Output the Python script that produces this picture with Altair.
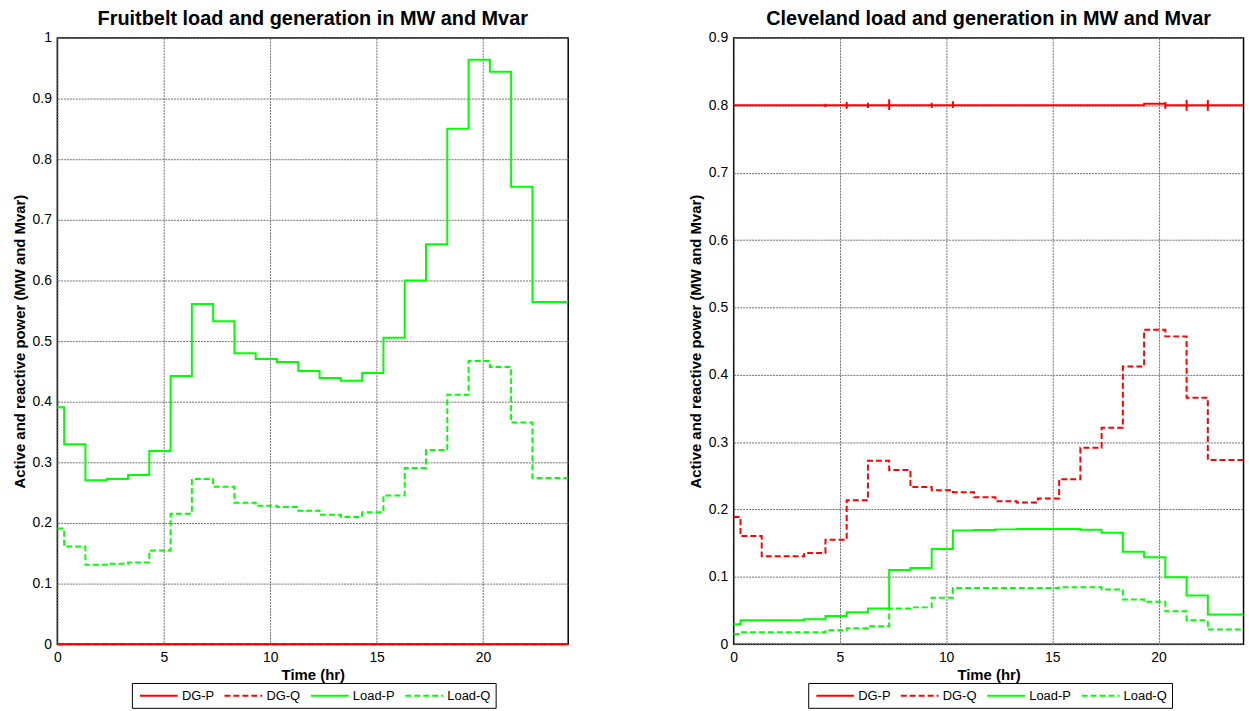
import altair as alt
import pandas as pd

# ---------------- data ----------------
series_names = ["DG-P", "DG-Q", "Load-P", "Load-Q"]
series_colors = ["#ff0000", "#ff0000", "#00ff00", "#00ff00"]
series_dashes = [[1, 0], [6, 3], [1, 0], [6, 3]]

# start time of each hourly step (hr); the last step lasts until 24 h
step_start = [0, 0.32, 1.32, 2.32, 3.32, 4.32, 5.32, 6.32, 7.32, 8.32, 9.32, 10.32,
              11.32, 12.32, 13.32, 14.32, 15.32, 16.32, 17.32, 18.32, 19.32, 20.32,
              21.32, 22.32]
end_time = 24

# Fruitbelt
fb_dg_p = [0] * 24
fb_dg_q = [0] * 24
fb_load_p = [0.391, 0.330, 0.2705, 0.2727, 0.279, 0.3186, 0.4426, 0.561, 0.5326, 0.480,
             0.4705, 0.4656, 0.4508, 0.4393, 0.4344, 0.4475, 0.5055, 0.600, 0.6598,
             0.8503, 0.9639, 0.9444, 0.7546, 0.5645]
fb_load_q = [0.1907, 0.1612, 0.1311, 0.1328, 0.135, 0.1546, 0.2153, 0.2727, 0.2596,
             0.2333, 0.2284, 0.2262, 0.2202, 0.2137, 0.2098, 0.2175, 0.2454, 0.2907,
             0.3202, 0.4115, 0.4672, 0.4574, 0.3656, 0.2743]

# Cleveland
cl_dg_p = [0.8, 0.8, 0.8, 0.8, 0.8, 0.8, 0.8, 0.8, 0.8, 0.8, 0.8, 0.8, 0.8, 0.8, 0.8,
           0.8, 0.8, 0.8, 0.8, 0.8, 0.8025, 0.8, 0.8, 0.8]
cl_spike_time = [1.32, 4.32, 5.32, 6.32, 7.32, 8.32, 9.32, 10.32, 11.32, 14.32, 15.32,
                 16.32, 17.32, 18.32, 20.32, 21.32, 22.32]
cl_spike_hi = [0.801, 0.8025, 0.805, 0.804, 0.809, 0.801, 0.804, 0.806, 0.801, 0.801,
               0.801, 0.801, 0.801, 0.801, 0.805, 0.808, 0.808]
cl_spike_lo = [0.799, 0.7975, 0.795, 0.796, 0.793, 0.799, 0.796, 0.796, 0.799, 0.799,
               0.799, 0.799, 0.799, 0.799, 0.795, 0.792, 0.792]
cl_dg_q = [0.189, 0.1606, 0.1305, 0.1305, 0.1355, 0.1552, 0.2138, 0.2724, 0.2586,
           0.2335, 0.2286, 0.2256, 0.2182, 0.2123, 0.2103, 0.2163, 0.2449, 0.2916,
           0.3212, 0.4123, 0.467, 0.457, 0.366, 0.2734]
cl_load_p = [0.0296, 0.0355, 0.0355, 0.0357, 0.037, 0.0419, 0.0473, 0.0532, 0.1103,
             0.1133, 0.1414, 0.169, 0.1695, 0.1705, 0.171, 0.171, 0.171, 0.1698,
             0.1655, 0.1374, 0.129, 0.0995, 0.0724, 0.0443]
cl_load_q = [0.0153, 0.0177, 0.0177, 0.0177, 0.0177, 0.0207, 0.0236, 0.0266, 0.0532,
             0.0547, 0.069, 0.0833, 0.0833, 0.0833, 0.0833, 0.0833, 0.0847, 0.0847,
             0.0813, 0.0665, 0.063, 0.0488, 0.0355, 0.0217]

fb_ticks = [0, 0.1, 0.2, 0.3, 0.4, 0.5, 0.6, 0.7, 0.8, 0.9, 1.0]
cl_ticks = [0, 0.1, 0.2, 0.3, 0.4, 0.5, 0.6, 0.7, 0.8, 0.9]
x_ticks = [0, 5, 10, 15, 20]


# ---------------- tables ----------------
def step_rows(name, values):
    rows = [{"t": t, "v": v, "series": name} for t, v in zip(step_start, values)]
    rows.append({"t": end_time, "v": values[-1], "series": name})
    return rows


def spiky_rows(name, values):
    rows = []
    prev = values[0]
    for t, v in zip(step_start, values):
        rows.append({"t": t, "v": prev})
        if t in cl_spike_time:
            k = cl_spike_time.index(t)
            rows.append({"t": t, "v": cl_spike_hi[k]})
            rows.append({"t": t, "v": cl_spike_lo[k]})
        rows.append({"t": t, "v": v})
        prev = v
    rows.append({"t": end_time, "v": values[-1]})
    for i, r in enumerate(rows):
        r["idx"] = i
        r["series"] = name
    return rows


fb_df = pd.DataFrame(step_rows("DG-P", fb_dg_p) + step_rows("DG-Q", fb_dg_q)
                     + step_rows("Load-P", fb_load_p) + step_rows("Load-Q", fb_load_q))
cl_steps_df = pd.DataFrame(step_rows("DG-Q", cl_dg_q) + step_rows("Load-P", cl_load_p)
                           + step_rows("Load-Q", cl_load_q))
cl_dgp_df = pd.DataFrame(spiky_rows("DG-P", cl_dg_p))

FONT = "Liberation Sans"
YTITLE = "Active and reactive power (MW and Mvar)"


def encodings(ymax, yticks):
    legend = alt.Legend(
        title=None, orient="none", legendX=75, legendY=649, direction="horizontal",
        strokeColor="black", fillColor="white", padding=5,
        symbolType="M-3,0H3", symbolSize=160, symbolStrokeWidth=2,
        symbolOffset=14.65, labelOffset=15.7,
        labelFont=FONT, labelFontSize=13, labelColor="black", columnPadding=6,
    )
    x = alt.X("t:Q", scale=alt.Scale(domain=[0, 24], nice=False, zero=False),
              axis=alt.Axis(values=x_ticks, title="Time (hr)", labelFlush=False,
                            titlePadding=3))
    y = alt.Y("v:Q", scale=alt.Scale(domain=[0, ymax], nice=False),
              axis=alt.Axis(values=yticks, format=".1~f", title=YTITLE, titlePadding=5))
    color = alt.Color("series:N", scale=alt.Scale(domain=series_names, range=series_colors),
                      legend=legend)
    dash = alt.StrokeDash("series:N", scale=alt.Scale(domain=series_names, range=series_dashes),
                          legend=legend)
    return x, y, color, dash


def title(text):
    return alt.TitleParams(text=text, frame="group", anchor="middle", baseline="alphabetic",
                           offset=-14, font=FONT, fontSize=20, fontWeight="bold",
                           color="black")


x, y, color, dash = encodings(1.0, fb_ticks)
left = alt.Chart(fb_df, title=title("Fruitbelt load and generation in MW and Mvar")).mark_line(
    interpolate="step-after", strokeWidth=2, clip=False
).encode(x=x, y=y, color=color, strokeDash=dash).properties(width=514, height=610)

x, y, color, dash = encodings(0.9, cl_ticks)
cl_dgp = alt.Chart(cl_dgp_df).mark_line(strokeWidth=2).encode(
    x=x, y=y, color=color, strokeDash=dash, order=alt.Order("idx:Q"))
cl_steps = alt.Chart(cl_steps_df).mark_line(interpolate="step-after", strokeWidth=2).encode(
    x=x, y=y, color=color, strokeDash=dash)
right = alt.layer(cl_dgp, cl_steps, title=title("Cleveland load and generation in MW and Mvar")
                  ).properties(width=513, height=610)

chart = alt.hconcat(left, right, spacing=114.5).resolve_scale(
    color="independent", strokeDash="independent"
).properties(
    padding={"left": 10.7, "top": 6, "right": 0, "bottom": 0}
).configure_view(
    stroke="black", strokeWidth=1.5
).configure_axis(
    labelFont=FONT, labelFontSize=14, labelColor="black", labelPadding=6,
    titleFont=FONT, titleFontSize=15, titleFontWeight="bold", titleColor="black",
    grid=True, gridColor="#707070", gridDash=[2, 1], gridWidth=1,
    domain=False, ticks=False,
)

chart.save("out.html", embed_options={"renderer": "svg", "actions": False})
